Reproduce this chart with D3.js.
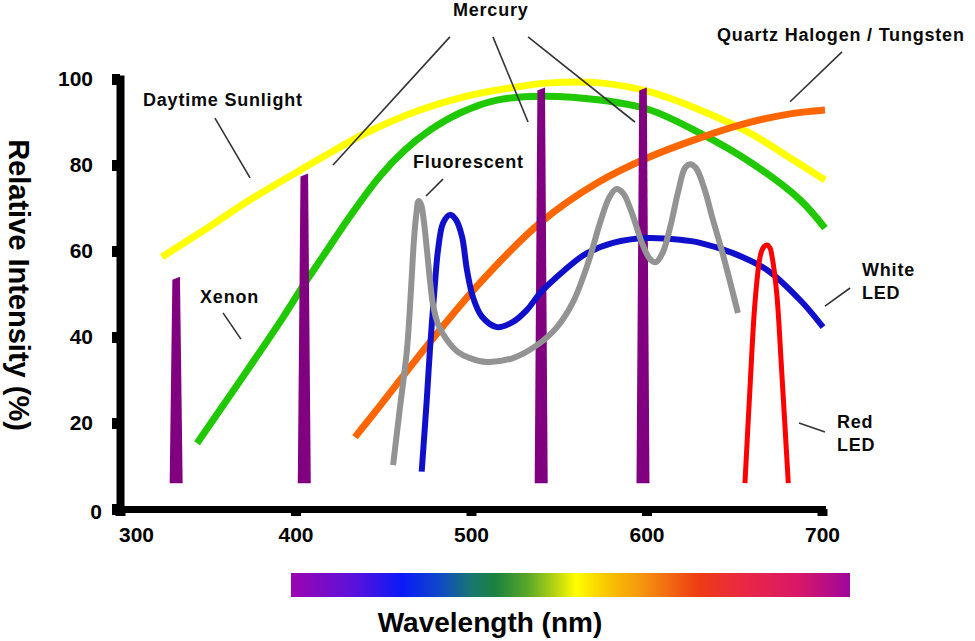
<!DOCTYPE html>
<html><head><meta charset="utf-8">
<script src="https://cdn.jsdelivr.net/npm/d3@7"></script>
<style>
html,body{margin:0;padding:0;background:#fff;}
svg{display:block;font-family:"Liberation Sans",Arial,Helvetica,sans-serif;}
</style></head><body>
<svg id="chart" width="975" height="641"></svg>
<script>
// ---------- data ----------
const xTicks = [300, 400, 500, 600, 700];
const yTicks = [0, 20, 40, 60, 80, 100];

const sunNm  = [323.9, 349.6, 374.1, 402.6, 422.5, 442.5, 470.9, 495.4, 522.2, 545.0, 573.5, 602.0, 630.5, 659.0, 683.5, 701.7];
const sunVal = [58.6, 65.3, 71.9, 78.8, 83.5, 87.9, 92.8, 95.8, 97.9, 99.1, 99.1, 97.0, 92.8, 87.4, 81.2, 76.5];

const xenonNm  = [343.9, 368.4, 391.2, 405.4, 415.7, 431.1, 448.1, 462.4, 476.6, 493.7, 514.8, 541.0, 573.5, 602.0, 630.5, 659.0, 687.5, 701.7];
const xenonVal = [15.3, 29.8, 43.5, 52.6, 58.8, 68.1, 77.4, 83.5, 88.1, 92.1, 95.1, 96.0, 95.1, 92.8, 87.4, 80.7, 71.9, 65.3];

const halogenNm  = [433.9, 448.1, 476.6, 505.1, 539.3, 571.8, 602.0, 630.5, 655.0, 681.8, 701.7];
const halogenVal = [16.7, 24.0, 38.8, 52.6, 66.5, 75.8, 81.9, 86.3, 89.5, 91.9, 92.8];

const fluorNm  = [455.6, 459.5, 463.5, 465.8, 467.5, 469.0, 470.1, 471.5, 473.2, 474.9, 476.6, 478.4, 481.2, 486.3, 492.6, 499.4, 509.1, 523.9, 537.6, 549.0, 558.1, 566.7, 573.5, 578.6, 582.6, 586.6, 591.7, 597.4, 602.0, 605.4, 609.4, 613.4, 618.0, 621.9, 624.8, 628.2, 632.8, 637.9, 643.6, 652.1];
const fluorVal = [10.2, 23.5, 37.0, 50.9, 62.6, 69.1, 71.6, 70.9, 66.7, 60.2, 53.3, 47.4, 43.0, 39.3, 36.5, 35.1, 34.2, 35.1, 38.1, 42.3, 48.1, 57.2, 66.5, 72.3, 74.4, 73.5, 68.8, 61.9, 58.1, 57.4, 59.8, 65.4, 73.7, 79.3, 80.2, 79.3, 74.7, 67.2, 59.1, 45.6];

const whiteLedNm  = [471.9, 474.8, 476.6, 479.5, 481.2, 484.1, 488.0, 491.5, 494.9, 497.7, 501.1, 506.3, 514.8, 523.9, 531.9, 539.3, 549.0, 558.1, 566.1, 580.9, 600.3, 619.1, 630.5, 649.3, 668.7, 687.5, 700.6];
const whiteLedVal = [8.7, 25.4, 37.0, 52.6, 60.2, 66.5, 68.4, 67.2, 63.3, 55.6, 49.3, 44.7, 42.3, 43.5, 46.3, 50.2, 54.0, 57.2, 59.5, 61.9, 63.0, 62.6, 61.9, 59.5, 55.6, 48.6, 42.3];

const redLedNm  = [656.1, 659.0, 661.8, 664.7, 666.4, 668.5, 670.4, 671.5, 674.2, 677.0, 680.8];
const redLedVal = [6.0, 28.4, 47.9, 58.6, 60.7, 61.4, 60.7, 58.8, 50.2, 32.3, 6.0];

const mercuryNm   = [332, 405, 540, 598];
const mercuryPeak = [54, 78, 98, 98];
const mercuryBase = 6;

// annotation labels (anchor in wavelength / intensity units)
const labelText = ["Daytime Sunlight", "Mercury", "Quartz Halogen / Tungsten", "Fluorescent", "Xenon", "White", "LED", "Red", "LED"];
const labelNm   = [313.1, 489.7, 640.2, 467.0, 345.6, 722.8, 722.8, 708.5, 708.5];
const labelVal  = [93.7, 114.7, 108.8, 79.3, 47.9, 54.2, 48.8, 18.8, 13.5];

// leader lines: [fromNm, fromVal, toNm, toVal]
const leaderFromNm  = [354.1, 488.0, 512.5, 532.5, 711.4, 484.0, 358.7, 716.0, 701.7];
const leaderFromVal = [90.9, 109.8, 109.8, 109.8, 106.3, 76.7, 45.6, 51.4, 17.9];
const leaderToNm    = [374.1, 421.4, 532.5, 593.4, 681.8, 474.4, 368.9, 701.7, 686.9];
const leaderToVal   = [77.0, 80.0, 90.0, 90.0, 94.7, 72.8, 39.5, 47.2, 20.0];

// ---------- layout ----------
const svg = d3.select("#chart");
const x = d3.scaleLinear().domain([300, 700]).range([120, 822]);
const y = d3.scaleLinear().domain([0, 100]).range([509, 79]);

const FONT = "'Liberation Sans', Arial, Helvetica, sans-serif";

// ---------- curves ----------
const line = d3.line().x(d => x(d[0])).y(d => y(d[1])).curve(d3.curveCatmullRom.alpha(0.5));
const zip = (a, b) => a.map((v, i) => [v, b[i]]);

function drawCurve(nm, val, color, width) {
  svg.append("path")
    .attr("d", line(zip(nm, val)))
    .attr("fill", "none")
    .attr("stroke", color)
    .attr("stroke-width", width)
    .attr("stroke-linecap", "butt")
    .attr("stroke-linejoin", "round");
}

drawCurve(sunNm, sunVal, "#ffff00", 7);
drawCurve(xenonNm, xenonVal, "#20c800", 7);
drawCurve(halogenNm, halogenVal, "#ff6600", 7);

// mercury spikes
const spikeG = svg.append("g");
mercuryNm.forEach((nm, i) => {
  const cx = x(nm), yt = y(mercuryPeak[i]), yb = y(mercuryBase);
  const pts = [[cx - 6.5, yb], [cx - 3.8, yt + 3], [cx + 3.8, yt], [cx + 6.5, yb]];
  spikeG.append("path")
    .attr("d", d3.line()(pts) + "Z")
    .attr("fill", "#800080");
});

drawCurve(whiteLedNm, whiteLedVal, "#1010cc", 6);
drawCurve(fluorNm, fluorVal, "#939393", 6);
drawCurve(redLedNm, redLedVal, "#ff0000", 5);

// ---------- axes ----------
const gx = svg.append("g")
  .attr("transform", `translate(0,${y(0)})`)
  .call(d3.axisBottom(x).tickValues(xTicks).tickSize(7).tickSizeOuter(0).tickPadding(11).tickFormat(d3.format("d")));
gx.attr("font-family", FONT).attr("font-size", 21).attr("font-weight", "bold");
gx.select(".domain").attr("stroke", "#000").attr("stroke-width", 7).attr("stroke-linecap", "square");
gx.selectAll(".tick line").attr("stroke", "#000").attr("stroke-width", 10);
gx.selectAll(".tick text").attr("fill", "#000")
  .attr("transform", d => d === 300 ? "translate(16,0)" : null);

const gy = svg.append("g")
  .attr("transform", `translate(${x(300)},0)`)
  .call(d3.axisLeft(y).tickValues(yTicks).tickSize(8).tickSizeOuter(0).tickPadding(19));
gy.attr("font-family", FONT).attr("font-size", 21).attr("font-weight", "bold");
gy.select(".domain").attr("stroke", "#000").attr("stroke-width", 8).attr("stroke-linecap", "square");
gy.selectAll(".tick line").attr("stroke", "#000").attr("stroke-width", 11);
gy.selectAll(".tick text").attr("fill", "#000")
  .attr("transform", d => d === 0 ? "translate(9,3)" : null);

// axis titles
svg.append("text")
  .attr("transform", "translate(9,285) rotate(90)")
  .attr("text-anchor", "middle")
  .attr("font-family", FONT).attr("font-size", 29).attr("font-weight", "bold")
  .attr("fill", "#000")
  .text("Relative Intensity (%)");

svg.append("text")
  .attr("x", 490).attr("y", 632)
  .attr("text-anchor", "middle")
  .attr("font-family", FONT).attr("font-size", 28).attr("font-weight", "bold")
  .attr("fill", "#000")
  .text("Wavelength (nm)");

// ---------- spectrum bar ----------
const gradStops = [
  [0, "#9a05b0"], [0.113, "#5a12dc"], [0.199, "#0a1af8"], [0.265, "#1048c8"],
  [0.325, "#18786c"], [0.364, "#1a8040"], [0.424, "#5aa828"], [0.477, "#c0d810"],
  [0.51, "#ffff00"], [0.563, "#f8c800"], [0.629, "#f59410"], [0.728, "#ee3c12"],
  [0.808, "#ea2844"], [0.907, "#d81868"], [1, "#a0069c"]
];
const grad = svg.append("defs").append("linearGradient").attr("id", "spec")
  .attr("x1", "0%").attr("x2", "100%").attr("y1", "0%").attr("y2", "0%");
gradStops.forEach(s => grad.append("stop").attr("offset", s[0]).attr("stop-color", s[1]));
svg.append("rect").attr("x", 291).attr("y", 573).attr("width", 559).attr("height", 24)
  .attr("fill", "url(#spec)");

// ---------- leaders & labels ----------
leaderFromNm.forEach((nm, i) => {
  svg.append("line")
    .attr("x1", x(nm)).attr("y1", y(leaderFromVal[i]))
    .attr("x2", x(leaderToNm[i])).attr("y2", y(leaderToVal[i]))
    .attr("stroke", "#333").attr("stroke-width", 1.6);
});

labelText.forEach((t, i) => {
  svg.append("text")
    .attr("x", x(labelNm[i])).attr("y", y(labelVal[i]))
    .attr("font-family", FONT).attr("font-size", 18).attr("font-weight", "bold")
    .attr("letter-spacing", 0.8)
    .attr("fill", "#0a0a0a")
    .text(t);
});
</script>
</body></html>
